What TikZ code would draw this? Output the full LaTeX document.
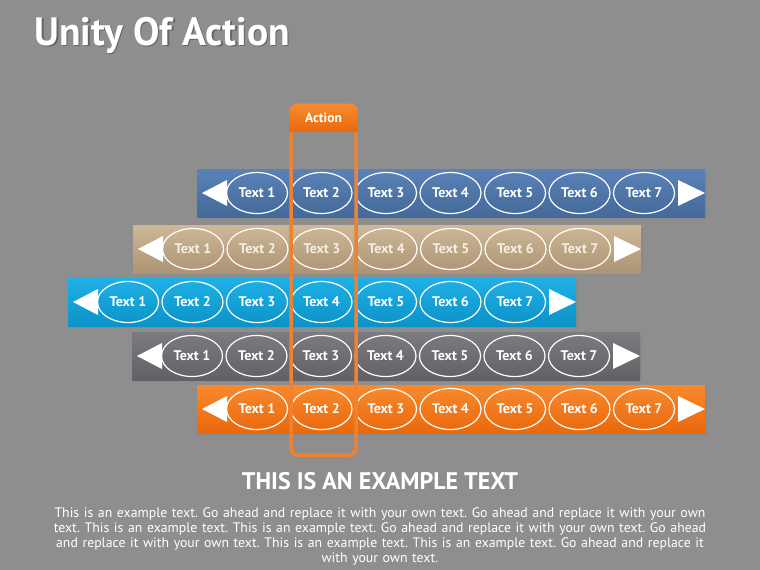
\documentclass[tikz,border=0pt]{standalone}
\usepackage{fontspec}
\setmainfont{PT Sans}
\usetikzlibrary{shapes.geometric,shadows}
\frenchspacing
\definecolor{canvas}{HTML}{8E8E8E}
\definecolor{upblue}{HTML}{5A82B6}
\definecolor{dnblue}{HTML}{44699A}
\definecolor{uptan}{HTML}{CDB897}
\definecolor{dntan}{HTML}{AC9474}
\definecolor{upcyan}{HTML}{20B0E6}
\definecolor{dncyan}{HTML}{0A93C8}
\definecolor{upslate}{HTML}{7B7B80}
\definecolor{dnslate}{HTML}{606065}
\definecolor{uporng}{HTML}{F88A2E}
\definecolor{dnorng}{HTML}{EA680C}
\definecolor{actline}{HTML}{EE8230}
\definecolor{tanink}{HTML}{F6EFE3}

\begin{document}
\begin{tikzpicture}[x=1pt,y=-1pt,
  bar/.style={minimum width=508pt,minimum height=48pt,inner sep=0pt,
    drop shadow={shadow xshift=1.5pt,shadow yshift=-2pt,opacity=.3}},
  oval/.style={ellipse,draw=white,line width=1.2pt,minimum width=61pt,minimum height=41pt,inner sep=0pt,
    font=\bfseries\fontsize{14}{14}\selectfont},
  tip/.style={fill=white},
  frame/.style={draw=actline,line width=3.5pt,rounded corners=7pt,minimum width=65pt,minimum height=350pt},
  title/.style={anchor=base west,font=\bfseries\fontsize{39.5}{42}\selectfont}]
  \fill[canvas] (0,0) rectangle (760,570);
  \node[title,text=black!60] (titleshadow) at (32.5,46.5) {Unity Of Action};
  \node[title,text=white] (title) at (31,45) {Unity Of Action};
  % five bars, seven ovals each
  \foreach \r/\x/\y/\c/\tc in {1/197/193/blue/white,2/133/249/tan/tanink,3/68/302/cyan/white,
      4/132/356/slate/white,5/197/409/orng/white}{
    \node[bar,top color=up\c,bottom color=dn\c] (bar\r) at (\x+254,\y) {};
    \fill[tip] (\x+5,\y) -- (\x+30,\y-13) -- (\x+30,\y+13) -- cycle;
    \fill[tip] (\x+508,\y) -- (\x+481,\y-13) -- (\x+481,\y+13) -- cycle;
    \foreach \k in {1,...,7}
      \node[oval,text=\tc] (r\r-t\k) at (\x+60+64.5*\k-64.5,\y) {Text \k};
  }
  \node[frame] (actframe) at (323.5,280) {};
  \shade[top color=uporng,bottom color=dnorng] (289,132) [rounded corners=7pt] -- (289,104) -- (358,104)
    [sharp corners] -- (358,132) -- cycle;
  \node[text=white,font=\bfseries\fontsize{13.5}{14}\selectfont] (act) at (323.5,118) {Action};
  \node[text=white,font=\bfseries\fontsize{24}{28}\selectfont] (head) at (380,481) {THIS IS AN EXAMPLE TEXT};
  \node[text=white,text width=740pt,align=center,font=\fontsize{13.8}{15}\selectfont] (body) at (380,536)
    {This is an example text. Go ahead and replace it with your own text. Go ahead and replace it with your own\\
     text. This is an example text. This is an example text. Go ahead and replace it with your own text. Go ahead\\
     and replace it with your own text. This is an example text. This is an example text. Go ahead and replace it\\
     with your own text.};
\end{tikzpicture}
\end{document}
